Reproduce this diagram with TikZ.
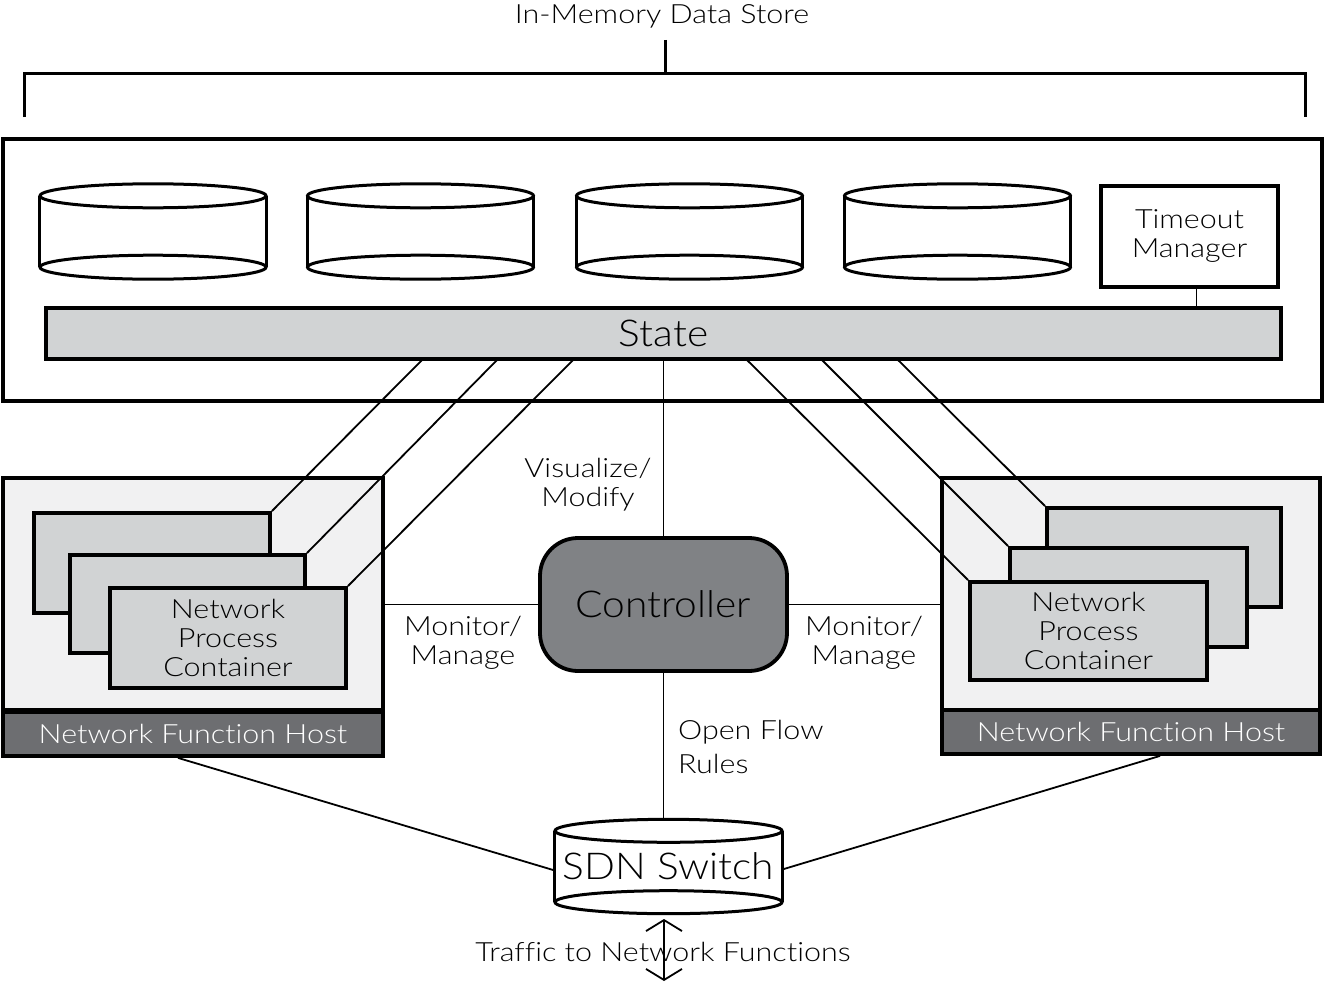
\documentclass[tikz,border=0pt]{standalone}
\usepackage{fontspec}
\setmainfont{Lato}[UprightFont=* Light, FakeStretch=1.1]
\newfontfamily\lblfam{Lato}[UprightFont=* Light, FakeStretch=1.15, Ligatures=NoCommon]
\usetikzlibrary{arrows.meta,calc}
\definecolor{boxgray}{HTML}{D1D3D4}
\definecolor{hostgray}{HTML}{F1F1F2}
\definecolor{bargray}{HTML}{6D6E71}
\definecolor{ctrlgray}{HTML}{808285}
\newcommand\lblfont{\lblfam\fontsize{26.5}{29}\selectfont}
\newcommand\bigfont{\fontsize{37}{40}\selectfont}
\begin{document}
\begin{tikzpicture}[x=1pt,y=-1pt,
  thickborder/.style={draw, line width=3.8pt},
  cylline/.style={line width=3pt},
  conn/.style={line width=1.8pt},
  container/.style={thickborder, fill=boxgray, align=center, font=\lblfont, inner sep=0pt},
  hostbody/.style={thickborder, fill=hostgray, inner sep=0pt},
  hostbar/.style={thickborder, fill=bargray, text=white, font=\lblfont, inner sep=0pt},
  lbl/.style={align=center, font=\lblfont, inner sep=0pt},
  dbbody/.style={minimum width=226pt, minimum height=71pt, inner sep=0pt}
]
\useasboundingbox (0,0) rectangle (1325,982);

% title and bracket
\node[lbl] (title) at (662,16) {In-Memory Data Store};
\coordinate (brtop) at (665,40);
\coordinate (brmid) at (665,74);
\coordinate (brl) at (24,74);
\coordinate (brlb) at (24,117);
\coordinate (brr) at (1305,74);
\coordinate (brrb) at (1305,117);
\draw[line width=3pt] (brtop) -- (brmid);
\draw[line width=3pt] (brlb) -- (brl) -- (brr) -- (brrb);

% store box
\node[thickborder, minimum width=1319pt, minimum height=262pt, inner sep=0pt] (store) at (662.5,270) {};

% cylinders
\foreach \i/\cx in {1/153,2/420.5,3/689.5,4/957.5}{
  \node[dbbody] (db\i) at (\cx,231.5) {};
  \draw[cylline] (db\i.north west) -- (db\i.south west);
  \draw[cylline] (db\i.north east) -- (db\i.south east);
  \draw[cylline] (db\i.north) ellipse [x radius=113, y radius=12];
  \draw[cylline] (db\i.south) ellipse [x radius=113, y radius=12];
}

% timeout manager
\node[thickborder, minimum width=177pt, minimum height=101pt, align=center, font=\lblfont, inner sep=0pt] (tm) at (1189.5,236.5) {Timeout\\Manager};

% state bar
\node[thickborder, fill=boxgray, minimum width=1235pt, minimum height=51pt, inner sep=0pt, font=\bigfont] (state) at (663.5,333.5) {State};
\coordinate (tmfoot) at ($(tm.south)+(7,0)$);
\draw[conn] (tmfoot) -- (tmfoot |- state.north);

% hosts
\node[hostbody, minimum width=380pt, minimum height=232pt] (lhost) at (193,594) {};
\node[hostbar, minimum width=380pt, minimum height=44pt] (lbar) at (193,734) {Network Function Host};
\node[hostbody, minimum width=378pt, minimum height=232pt] (rhost) at (1131,594) {};
\node[hostbar, minimum width=378pt, minimum height=44pt] (rbar) at (1131,732) {Network Function Host};

% connector start points on the state bar
\coordinate (s1) at (423,359);
\coordinate (s2) at (498,359);
\coordinate (s3) at (574,359);
\coordinate (s4) at (746,359);
\coordinate (s5) at (821,359);
\coordinate (s6) at (897,359);

% left containers
\node[container, minimum width=236pt, minimum height=100pt] (lc1) at (152,563) {};
\node[container, minimum width=235pt, minimum height=98pt] (lc2) at (187.5,604) {};
\node[container, minimum width=236pt, minimum height=100pt] (lc3) at (228,638) {Network\\Process\\Container};
% right containers
\node[container, minimum width=234pt, minimum height=99pt] (rc1) at (1164,557.5) {};
\node[container, minimum width=237pt, minimum height=99pt] (rc2) at (1128.5,597.5) {};
\node[container, minimum width=237pt, minimum height=98pt] (rc3) at (1088.5,631) {Network\\Process\\Container};

\draw[conn] (s1) -- (lc1.north east);
\draw[conn] (s2) -- (lc2.north east);
\draw[conn] (s3) -- (lc3.north east);
\draw[conn] (s4) -- (rc3.north west);
\draw[conn] (s5) -- (rc2.north west);
\draw[conn] (s6) -- (rc1.north west);

% controller
\node[thickborder, fill=ctrlgray, rounded corners=38pt, minimum width=247pt, minimum height=133pt, inner sep=0pt, font=\bigfont] (ctrl) at (663.5,604.5) {Controller};
\draw[conn] (state.south -| ctrl.north) -- (ctrl.north);
\draw[conn] (ctrl.west) -- (ctrl.west -| lhost.east);
\draw[conn] (ctrl.east) -- (ctrl.east -| rhost.west);

\node[lbl] (viz) at (588,485) {Visualize/\\Modify};
\node[lbl] (mml) at (463,643) {Monitor/\\Manage};
\node[lbl] (mmr) at (864,643) {Monitor/\\Manage};
\node[lbl, align=left, anchor=west] (ofr) at (678,747) {Open Flow\\[5pt]Rules};

% SDN switch
\node[minimum width=227pt, minimum height=71pt, inner sep=0pt, font=\bigfont] (sdn) at (668.5,866.5) {SDN Switch};
\draw[cylline] (sdn.north west) -- (sdn.south west);
\draw[cylline] (sdn.north east) -- (sdn.south east);
\draw[cylline] (sdn.north) ellipse [x radius=113.5, y radius=11.5];
\draw[cylline] (sdn.south) ellipse [x radius=113.5, y radius=11.5];
\coordinate (sdntop) at ($(sdn.north)+(0,-11.5)$);
\draw[conn] (ctrl.south) -- (ctrl.south |- sdntop);

\coordinate (lfoot) at ($(lbar.south)+(-15,0)$);
\coordinate (rfoot) at ($(rbar.south)+(29,0)$);
\draw[conn] (lfoot) -- ($(sdn.west)+(0,4)$);
\draw[conn] (rfoot) -- ($(sdn.east)+(0,3)$);

% traffic arrow
\coordinate (tin) at (664,919);
\coordinate (tout) at (664,981);
\draw[conn, {Straight Barb[length=11pt,width=36pt,line width=1.8pt]}-{Straight Barb[length=11pt,width=36pt,line width=1.8pt]}] (tin) -- (tout);
\node[lbl] (traffic) at (663,952) {Traffic to Network Functions};
\end{tikzpicture}
\end{document}
